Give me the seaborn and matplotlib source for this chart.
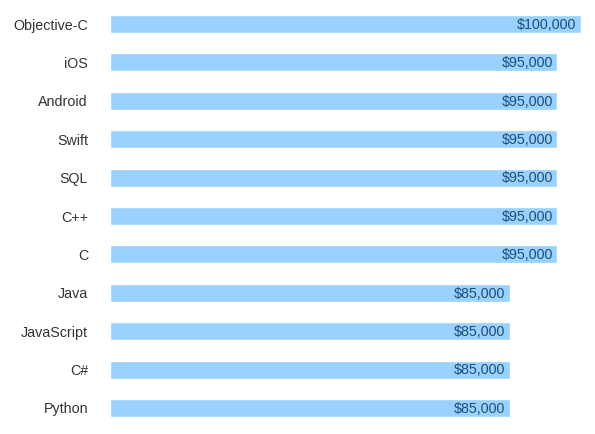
import matplotlib
matplotlib.use("Agg")
import matplotlib.pyplot as plt
import seaborn as sns
import pandas as pd

languages = ["Objective-C", "iOS", "Android", "Swift", "SQL", "C++", "C",
             "Java", "JavaScript", "C#", "Python"]
salaries = [100000, 95000, 95000, 95000, 95000, 95000, 95000,
            85000, 85000, 85000, 85000]

df = pd.DataFrame({"language": languages, "salary": salaries})

sns.set_theme(style="white")
plt.rcParams['font.family'] = ['Liberation Sans', 'DejaVu Sans']

fig = plt.figure(figsize=(5.95, 4.34), dpi=100)
ax = fig.add_axes([110/595, (434-427.2)/434, 471/595, 422.4/434])

sns.barplot(data=df, x="salary", y="language", orient="h", color="#99d1ff",
            saturation=1, width=0.47, ax=ax)

ax.set_xlim(0, 100000)
ax.set_ylim(len(languages) - 0.5, -0.5)
ax.set_xlabel("")
ax.set_ylabel("")
ax.set_xticks([])
for s in ax.spines.values():
    s.set_visible(False)
ax.tick_params(axis="y", length=0, pad=15.8, labelsize=10.3, labelcolor="#333333")

for i, v in enumerate(salaries):
    ax.text(v - 1000, i + 0.02, f"${v:,}", ha="right", va="center",
            fontsize=10.3, color="#1f4e79")

fig.savefig("out.png", dpi=100, facecolor="white")
